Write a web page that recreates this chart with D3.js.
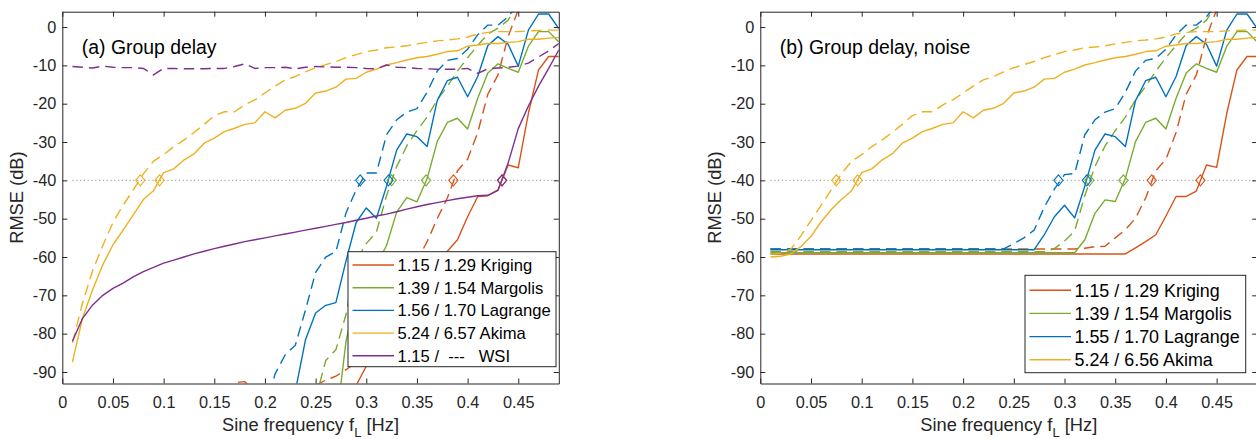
<!DOCTYPE html>
<html>
<head>
<meta charset="utf-8">
<script src="https://cdn.jsdelivr.net/npm/d3@7"></script>
<style>
  body { margin: 0; background: #fff; }
  svg { display: block; font-family: "Liberation Sans", Arial, sans-serif; }
</style>
</head>
<body>
<div id="chart"></div>
<script>
var svgWidth = 1256;
var svgHeight = 439;

// sine frequencies (Hz)
var freqs = [0.01, 0.02, 0.03, 0.04, 0.05, 0.06, 0.07, 0.08, 0.09, 0.10,
    0.11, 0.12, 0.13, 0.14, 0.15, 0.16, 0.17, 0.18, 0.19, 0.20,
    0.21, 0.22, 0.23, 0.24, 0.25, 0.26, 0.27, 0.28, 0.29, 0.30,
    0.31, 0.32, 0.33, 0.34, 0.35, 0.36, 0.37, 0.38, 0.39, 0.40,
    0.41, 0.42, 0.43, 0.44, 0.45, 0.46, 0.47, 0.48, 0.49];

var xTicks = [0, 0.05, 0.1, 0.15, 0.2, 0.25, 0.3, 0.35, 0.4, 0.45];
var xTickLabels = ["0", "0.05", "0.1", "0.15", "0.2", "0.25", "0.3", "0.35", "0.4", "0.45"];
var yTicks = [-90, -80, -70, -60, -50, -40, -30, -20, -10, 0];
var yTickLabels = ["-90", "-80", "-70", "-60", "-50", "-40", "-30", "-20", "-10", "0"];
var thresholdDb = -40;

var colors = ["#D95319", "#77AC30", "#0072BD", "#EDB120", "#7E2F8E"];
var legendA = ["1.15 / 1.29 Kriging", "1.39 / 1.54 Margolis", "1.56 / 1.70 Lagrange", "5.24 / 6.57 Akima", "1.15 /  ---   WSI"];
var legendB = ["1.15 / 1.29 Kriging", "1.39 / 1.54 Margolis", "1.55 / 1.70 Lagrange", "5.24 / 6.56 Akima"];

// RMSE (dB); shorter arrays end at 0.49, null = gap
// panel (a)
var krigingA = [-100, -93.5, -88.5, -84, -80, -76, -72, -68, -65, -62,
    -58.5, -55.5, -49.5, -44.2, -44, -42.5, -36, -36.7, -22.5, -11.2, -7.7, -7.7];
var krigingDashA = [-95, -92.8, -92.5, -95, null, null, null, null, null,
    -93.5, -92.1, -91.1, -89.4, -87.5, -85.5, -83, -79, -74, -69, -61, -56, -50, -44.6, -37.5,
    -34.5, -27.5, -17.5, -12.5, -2.5, 4.5, 7, 8, 8, 8];
var margolisA = [-104, -82, -70, -65, -62, -57, -48.3, -44.5, -45.6, -39.6,
    -29.9, -24.9, -23.8, -26.6, -18.6, -12, -9.6, -10.8, -11.8, -5, -1.2, -1.2, -3.9];
var margolisDashA = [-97, -87, -84.2, -75, -61, -56.5, -53.5, -44, -36.4, -31,
    -27, -23.5, -19, -15.5, -11.5, -8, -4.8, -1.8, -0.3, 1.8, 6, 7, 8, 8, 8];
var lagrangeA = [-95, -81.6, -74.6, -72.6, -71.9, -61, -51, -47.2, -49.9, -41.5,
    -32.1, -27.9, -28.6, -31.2, -19.2, -14, -13.1, -18.2, -12.9, -4.8,
    -2.5, -4.5, -10.2, -0.8, 3.4, 3.4, -0.4];
var lagrangeDashA = [-100, -90.5, -85.5, -83, -73.8, -64, -60, -58.6, -48.5, -42.5,
    -38.1, -38.1, -28.1, -24.2, -22.2, -21.3, -17, -11.5, -8.7, -8.2,
    -5.8, -2, 0.5, 0.5, 2.7, 6, 7, 8, 8, 8];
var akimaA = [-87.4, -75.9, -68.5, -62, -56.8, -53, -49, -45, -42.7, -38,
    -37, -34.7, -33.1, -30.3, -29, -27.3, -26.4, -25.4, -25, -22.1,
    -23.7, -21.7, -21.2, -19.9, -17.2, -16.7, -15.7, -13.6, -13.4, -11.8,
    -11, -9.9, -9.3, -8.6, -8, -7.7, -7.1, -6.4, -6.2, -5,
    -4.7, -4.3, -4.3, -4, -3.8, -3.2, -3.2, -2.9, -2.7];
var akimaDashA = [-82.4, -72, -63.5, -57, -51, -46.5, -42.5, -38.3, -35, -33.3,
    -31.2, -29.5, -27.5, -25.4, -23.1, -22.1, -22.1, -20.3, -19, -17.2,
    -15.4, -13.8, -12.9, -11.7, -10.6, -9.8, -9, -8, -7.2, -6.4,
    -6, -5.4, -5.2, -4.9, -4.4, -4, -3.6, -3.4, -3.1, -2.6,
    -1.8, -1.4, -1.2, -1.2, -1.2, -1, -0.9, -0.8, -0.8];
var wsiA = [-82, -76, -72.5, -70, -68.2, -66.8, -65.2, -63.8, -62.7, -61.6,
    -60.8, -60, -59.2, -58.5, -57.8, -57.2, -56.6, -56, -55.5, -55,
    -54.5, -54, -53.5, -53, -52.5, -52, -51.5, -51, -50.4, -49.9,
    -49.3, -48.8, -48.2, -47.5, -46.9, -46.3, -45.8, -45.3, -44.8, -44.4,
    -44, -43.9, -42.6, -35.5, -26.5, -20.6, -15.4, -10.8, -6];
var wsiDashA = [-10.3, -10.5, -10.7, -10.2, -10.5, -10.6, -10.6, -10.8, -12.5, -10.8,
    -10.8, -10.9, -10.9, -10.9, -10.8, -10.8, -10.3, -9.6, -10.8, -10.6,
    -10.6, -10.5, -10.9, -10.5, -10.3, -10.4, -10.5, -10.5, -10.6, -10.8,
    -10.9, -9.9, -10.5, -10.6, -10.8, -10.9, -11, -11, -11, -10.8,
    -12.1, -10.9, -10.7, -10.5, -10.2, -9.4, -7.8, -6.2, -4.3];

// panel (b), with noise
var krigingB = [-59.2, -59.2, -59.2, -59.2, -59.2, -59.2, -59.2, -59.2, -59.2, -59.2,
    -59.2, -59.2, -59.2, -59.2, -59.2, -59.2, -59.2, -59.2, -59.2, -59.2,
    -59.2, -59.2, -59.2, -59.2, -59.2, -59.2, -59.2, -59.2, -59.2, -59.2,
    -59.2, -59.2, -59.2, -59.2, -59.2, -59.2, -57.6, -56, -54.2, -49.3,
    -44.2, -44.2, -42.8, -36, -36.6, -22.5, -11.2, -7.7, -7.7];
var krigingDashB = [-57.9, -57.9, -57.9, -57.9, -57.9, -57.9, -57.9, -57.9, -57.9, -57.9,
    -57.9, -57.9, -57.9, -57.9, -57.9, -57.9, -57.9, -57.9, -57.9, -57.9,
    -57.9, -57.9, -57.9, -57.9, -57.9, -57.9, -57.9, -57.9, -57.9, -57.9,
    -57.9, -57.7, -57.3, -57.2, -55, -52.9, -49.9, -44.6, -37.5, -34.5,
    -27.5, -17.5, -12.5, -2.5, 4.5, 7, 8, 8, 8];
var margolisB = [-58.9, -58.9, -58.9, -58.9, -58.9, -58.9, -58.9, -58.9, -58.9, -58.9,
    -58.9, -58.9, -58.9, -58.9, -58.9, -58.9, -58.9, -58.9, -58.9, -58.9,
    -58.9, -58.9, -58.9, -58.9, -58.9, -58.9, -58.9, -58.9, -58.9, -58.9,
    -58.9, -55.5, -48.6, -45.1, -45.5, -39.5, -29.9, -24.9, -23.8, -26.6,
    -18.6, -12, -9.6, -10.8, -11.8, -5, -1.2, -1.2, -3.9];
var margolisDashB = [-58.6, -58.6, -58.6, -58.6, -58.6, -58.6, -58.6, -58.6, -58.6, -58.6,
    -58.6, -58.6, -58.6, -58.6, -58.6, -58.6, -58.6, -58.6, -58.6, -58.6,
    -58.6, -58.6, -58.6, -58.6, -58.6, -58.6, -58.6, -58.6, -57.8, -55.8,
    -53.2, -44, -36.4, -31, -27, -23.5, -19, -15.5, -11.5, -8,
    -4.8, -1.8, -0.3, 1.8, 6, 7, 8, 8, 8];
var lagrangeB = [-58.1, -58.1, -58.1, -58.1, -58.1, -58.1, -58.1, -58.1, -58.1, -58.1,
    -58.1, -58.1, -58.1, -58.1, -58.1, -58.1, -58.1, -58.1, -58.1, -58.1,
    -58.1, -58.1, -58.1, -58.1, -58.1, -58.1, -58.1, -54.2, -49.5, -46.5,
    -49.8, -41.5, -32.1, -27.9, -28.6, -31.2, -19.2, -14, -13.1, -18.2,
    -12.9, -4.8, -2.5, -4.5, -10.2, -0.8, 3.4, 3.4, -0.4];
var lagrangeDashB = [-57.9, -57.9, -57.9, -57.9, -57.9, -57.9, -57.9, -57.9, -57.9, -57.9,
    -57.9, -57.9, -57.9, -57.9, -57.9, -57.9, -57.9, -57.9, -57.9, -57.9,
    -57.9, -57.9, -57.9, -57.9, -56.5, -55, -53, -47, -42.3, -38.5,
    -38.2, -28.1, -24.2, -22.2, -21.3, -17, -11.5, -8.7, -8.2, -5.8,
    -2, 0.5, 0.5, 2.7, 6, 7, 8, 8, 8];
var akimaB = [-60, -59.8, -59.2, -57.3, -54.6, -50.8, -47.6, -45, -42.7, -38,
    -37, -34.7, -33.1, -30.3, -29, -27.3, -26.4, -25.4, -25, -22.1,
    -23.7, -21.7, -21.2, -19.9, -17.2, -16.7, -15.7, -13.6, -13.4, -11.8,
    -11, -9.9, -9.3, -8.6, -8, -7.7, -7.1, -6.4, -6.2, -5,
    -4.7, -4.3, -4.3, -4, -3.8, -3.2, -3.2, -2.9, -2.7];
var akimaDashB = [-59.3, -59, -58, -54.5, -50.5, -46.5, -42.5, -38.3, -35, -33.3,
    -31.2, -29.5, -27.5, -25.4, -23.1, -22.1, -22.1, -20.3, -19, -17.2,
    -15.4, -13.8, -12.9, -11.7, -10.6, -9.8, -9, -8, -7.2, -6.4,
    -6, -5.4, -5.2, -4.9, -4.4, -4, -3.6, -3.4, -3.1, -2.6,
    -1.8, -1.4, -1.2, -1.2, -1.2, -1, -0.9, -0.8, -0.8];

// frequency where each curve crosses -40 dB (diamonds), order: Kriging, Margolis, Lagrange, Akima, WSI
var crossSolidA = [0.434, 0.359, 0.322, 0.096, 0.434];
var crossDashA = [0.386, 0.325, 0.294, 0.077];
var crossSolidB = [0.434, 0.358, 0.322, 0.096];
var crossDashB = [0.386, 0.3245, 0.294, 0.075];

var svg = d3.select("#chart")
    .append("svg")
    .attr("width", svgWidth)
    .attr("height", svgHeight);

var ink = "#262626";

function toPoints(vals) {
    var offset = freqs.length - vals.length;
    return vals.map(function(v, i) { return { f: freqs[i + offset], v: v }; });
}

function drawPanel(cfg) {
    var g = svg.append("g");

    var xScale = d3.scaleLinear().domain([0, 0.49]).range([cfg.left, cfg.right]);
    var yScale = d3.scaleLinear().domain([-93, 4]).range([cfg.bottom, cfg.top]);

    g.append("clipPath")
        .attr("id", cfg.id)
        .append("rect")
        .attr("x", cfg.left)
        .attr("y", cfg.top)
        .attr("width", cfg.right - cfg.left)
        .attr("height", cfg.bottom - cfg.top);

    var plot = g.append("g").attr("clip-path", "url(#" + cfg.id + ")");

    var line = d3.line()
        .defined(d => d.v !== null)
        .x(d => xScale(d.f))
        .y(d => yScale(d.v));

    // -40 dB reference
    plot.append("path")
        .datum([{ f: freqs[0], v: thresholdDb }, { f: freqs[freqs.length - 1], v: thresholdDb }])
        .attr("d", line)
        .attr("fill", "none")
        .attr("stroke", "#a6a6a6")
        .attr("stroke-width", 1.2)
        .attr("stroke-dasharray", "1.2,2.6");

    cfg.series.forEach(function(s) {
        plot.append("path")
            .datum(toPoints(s.values))
            .attr("d", line)
            .attr("fill", "none")
            .attr("stroke", s.color)
            .attr("stroke-width", 1.4)
            .attr("stroke-linejoin", "round")
            .attr("stroke-dasharray", s.dashed ? "10.5,6" : null);
    });

    cfg.series.forEach(function(s) {
        plot.append("path")
            .attr("d", "M0,-5.5L4.6,0L0,5.5L-4.6,0Z")
            .attr("transform", `translate(${xScale(s.cross)}, ${yScale(thresholdDb)})`)
            .attr("fill", "none")
            .attr("stroke", s.color)
            .attr("stroke-width", 1.1);
    });

    // axes, ticks inside, box all round
    var bottomAxis = d3.axisBottom(xScale).tickValues(xTicks)
        .tickFormat((d, i) => xTickLabels[i]).tickSizeInner(-5).tickSizeOuter(0).tickPadding(13);
    var leftAxis = d3.axisLeft(yScale).tickValues(yTicks)
        .tickFormat((d, i) => yTickLabels[i]).tickSizeInner(-5).tickSizeOuter(0).tickPadding(6);
    var topAxis = d3.axisTop(xScale).tickValues(xTicks).tickFormat("").tickSizeInner(-5).tickSizeOuter(0);
    var rightAxis = d3.axisRight(yScale).tickValues(yTicks).tickFormat("").tickSizeInner(-5).tickSizeOuter(0);

    var axes = [
        g.append("g").attr("transform", `translate(0, ${cfg.bottom})`).call(bottomAxis),
        g.append("g").attr("transform", `translate(${cfg.left}, 0)`).call(leftAxis),
        g.append("g").attr("transform", `translate(0, ${cfg.top})`).call(topAxis),
        g.append("g").attr("transform", `translate(${cfg.right}, 0)`).call(rightAxis)
    ];
    axes.forEach(function(a) {
        a.select(".domain").attr("stroke", ink).attr("stroke-width", 1);
        a.selectAll(".tick line").attr("stroke", ink).attr("stroke-width", 1);
        a.selectAll(".tick text")
            .attr("fill", ink)
            .style("font-size", "16.3px")
            .style("font-family", "'Liberation Sans', Arial, sans-serif");
    });

    g.append("text")
        .attr("x", cfg.left + 19.5)
        .attr("y", cfg.top + 42)
        .attr("fill", "#000")
        .style("font-size", "19.4px")
        .text(cfg.title);

    var xLabel = g.append("text")
        .attr("x", (cfg.left + cfg.right) / 2)
        .attr("y", 431)
        .attr("text-anchor", "middle")
        .attr("fill", ink)
        .style("font-size", "18.3px");
    xLabel.append("tspan").text("Sine frequency f");
    xLabel.append("tspan").attr("dy", 6).style("font-size", "13px").text("L");
    xLabel.append("tspan").attr("dy", -6).text(" [Hz]");

    g.append("text")
        .attr("transform", `translate(${cfg.left - 39.8}, ${(cfg.top + cfg.bottom) / 2}) rotate(-90)`)
        .attr("text-anchor", "middle")
        .attr("fill", ink)
        .style("font-size", "18.3px")
        .text("RMSE (dB)");

    // legend
    var lg = cfg.legend;
    var leg = g.append("g");
    leg.append("rect")
        .attr("x", lg.x)
        .attr("y", lg.y)
        .attr("width", lg.w)
        .attr("height", lg.h)
        .attr("fill", "#fff")
        .attr("stroke", ink)
        .attr("stroke-width", 1);

    lg.labels.forEach(function(label, i) {
        var yy = lg.row0 + i * lg.step;
        leg.append("line")
            .attr("x1", lg.x + 4.5)
            .attr("x2", lg.x + 46)
            .attr("y1", yy)
            .attr("y2", yy)
            .attr("stroke", colors[i])
            .attr("stroke-width", 1.4);
        leg.append("text")
            .attr("x", lg.x + 49.5)
            .attr("y", yy)
            .attr("dy", "0.36em")
            .attr("fill", "#000")
            .style("font-size", lg.fontSize + "px")
            .style("white-space", "pre")
            .text(label);
    });
}

function buildSeries(solids, dashes, crossS, crossD) {
    var out = [];
    solids.forEach(function(vals, i) {
        out.push({ values: vals, color: colors[i], dashed: false, cross: crossS[i] });
        if (dashes[i]) {
            out.push({ values: dashes[i], color: colors[i], dashed: true, cross: crossD[i] });
        }
    });
    return out;
}

drawPanel({
    id: "clipA",
    left: 62.3, right: 558.8, top: 11.7, bottom: 383.5,
    title: "(a) Group delay",
    series: buildSeries(
        [krigingA, margolisA, lagrangeA, akimaA, wsiA],
        [krigingDashA, margolisDashA, lagrangeDashA, akimaDashA, wsiDashA],
        crossSolidA, crossDashA),
    legend: { x: 348, y: 251.7, w: 208, h: 115, row0: 265, step: 22.7, fontSize: 16.6, labels: legendA }
});

drawPanel({
    id: "clipB",
    left: 760.3, right: 1257.2, top: 11.7, bottom: 383.5,
    title: "(b) Group delay, noise",
    series: buildSeries(
        [krigingB, margolisB, lagrangeB, akimaB],
        [krigingDashB, margolisDashB, lagrangeDashB, akimaDashB],
        crossSolidB, crossDashB),
    legend: { x: 1025, y: 275.3, w: 220.7, h: 97.4, row0: 290.2, step: 23.2, fontSize: 17.9, labels: legendB }
});
</script>
</body>
</html>
